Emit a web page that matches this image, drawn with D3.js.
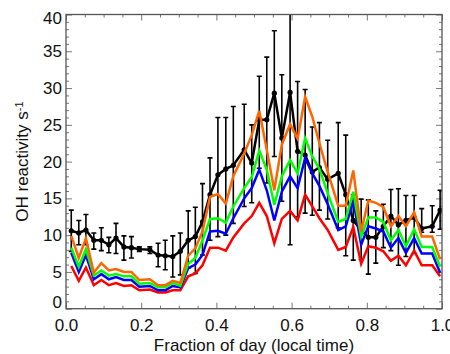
<!DOCTYPE html>
<html>
<head>
<meta charset="utf-8">
<script src="https://cdn.jsdelivr.net/npm/d3@7"></script>
<style>
  body { margin: 0; background: #fff; }
  svg { display: block; font-family: "Liberation Sans", Arial, sans-serif; }
</style>
</head>
<body>
<div id="chart"></div>
<script>
// fraction of day for each bin
const fracDay = [0.014, 0.034, 0.053, 0.074, 0.094, 0.114, 0.133, 0.154, 0.174, 0.195,
  0.223, 0.245, 0.264, 0.284, 0.304, 0.325, 0.344, 0.363, 0.383, 0.404,
  0.425, 0.445, 0.474, 0.494, 0.514, 0.534, 0.554, 0.574, 0.596, 0.616,
  0.636, 0.655, 0.674, 0.696, 0.724, 0.744, 0.764, 0.785, 0.804, 0.824,
  0.844, 0.864, 0.884, 0.904, 0.926, 0.946, 0.974, 0.995]

// measured OH reactivity (black) with error bar ends
const measured = [10.6, 10.3, 10.7, 9.3, 9.3, 8.7, 9.6, 8.4, 8.3, 8.1,
  8.0, 7.3, 7.2, 7.1, 7.8, 9.3, 9.8, 11.8, 15.5, 18.2,
  19.0, 19.5, 21.6, 19.8, 25.7, 25.7, 29.3, 23.2, 29.4, 21.4,
  20.9, 18.6, 19.2, 17.6, 18.4, 15.5, 12.0, 10.7, 9.7, 9.7,
  11.2, 12.6, 11.4, 12.0, 12.4, 10.9, 11.2, 13.4]
const measLow = [7.8, 8.7, 8.7, 8.1, 7.9, 7.6, 7.5, 6.6, 6.9, 7.8,
  7.5, 5.7, 5.3, 4.3, 4.6, 5.5, 4.8, 7.3, 9.3, 9.8,
  10.0, 11.6, 13.9, 14.4, 19.1, 17.1, 20.7, 14.6, 8.7, 12.5,
  13.0, 12.7, 13.4, 12.2, 11.0, 7.2, 6.6, 6.7, 4.7, 6.2,
  8.3, 7.9, 5.9, 7.1, 7.5, 10.4, 10.4, 10.8]
const measHigh = [13.4, 12.0, 12.8, 10.3, 11.0, 9.7, 11.6, 9.9, 9.8, 8.4,
  8.4, 8.9, 9.3, 9.9, 10.3, 13.3, 13.8, 17.0, 20.5, 26.0,
  26.0, 27.5, 27.8, 25.0, 31.6, 34.2, 37.8, 31.8, 41.0, 30.9,
  29.8, 24.7, 25.3, 22.9, 25.3, 23.6, 15.5, 14.9, 14.8, 13.3,
  14.2, 16.2, 16.3, 15.4, 15.4, 13.6, 14.0, 16.1]

// model runs
const runOrange = [9.9, 6.9, 9.6, 4.9, 6.2, 5.2, 5.4, 5.0, 5.0, 3.9,
  4.0, 3.2, 3.2, 3.8, 3.5, 7.2, 8.2, 10.5, 15.2, 15.6,
  14.3, 18.0, 21.1, 23.6, 26.9, 21.6, 16.1, 22.3, 25.1, 23.1,
  28.8, 26.1, 22.5, 18.6, 14.0, 14.0, 18.8, 10.5, 14.7, 14.4,
  13.8, 11.2, 12.6, 11.2, 13.1, 9.8, 9.8, 6.7]
const runGreen = [8.3, 5.7, 8.1, 4.5, 5.2, 4.5, 4.7, 4.4, 4.4, 3.4,
  3.5, 2.9, 2.9, 3.5, 3.1, 6.1, 6.9, 9.3, 12.2, 12.3,
  11.7, 13.9, 16.4, 17.9, 21.5, 18.9, 14.1, 18.0, 20.2, 18.4,
  23.2, 20.7, 19.0, 15.7, 11.8, 12.2, 15.9, 9.8, 12.4, 12.4,
  11.8, 9.3, 10.7, 8.5, 10.8, 8.4, 8.4, 5.7]
const runBlue = [7.6, 5.0, 7.3, 4.0, 4.7, 4.0, 4.3, 3.9, 3.9, 3.0,
  3.1, 2.5, 2.5, 3.1, 2.9, 5.5, 6.0, 7.3, 10.5, 10.6,
  10.2, 12.3, 15.0, 16.4, 18.9, 16.1, 12.0, 15.9, 18.0, 16.4,
  20.5, 18.4, 16.7, 14.2, 10.7, 11.2, 14.7, 8.7, 11.2, 10.9,
  10.5, 8.3, 9.6, 7.6, 9.6, 7.5, 7.5, 4.9]
const runRed = [5.8, 3.8, 5.6, 3.2, 3.9, 3.2, 3.5, 3.1, 3.2, 2.5,
  2.6, 2.2, 2.2, 2.5, 2.5, 4.4, 4.8, 5.9, 8.3, 8.3,
  7.9, 9.7, 11.6, 12.6, 14.4, 12.6, 8.9, 12.2, 13.3, 12.0,
  15.5, 13.9, 12.3, 10.7, 8.0, 8.4, 11.1, 6.1, 8.5, 8.3,
  7.8, 6.5, 7.2, 5.9, 7.9, 5.9, 5.9, 4.4]

const xMajor = [0, 0.2, 0.4, 0.6, 0.8, 1.0]
const yMajor = [0, 5, 10, 15, 20, 25, 30, 35, 40]

const W = 450
const H = 354
const plot = { left: 66, right: 442, top: 14.5, bottom: 308.7 }

const svg = d3.select('#chart').append('svg')
  .attr('width', W)
  .attr('height', H)

const x = d3.scaleLinear([0, 1], [plot.left, plot.right])
const y = d3.scaleLinear([0, 40], [plot.bottom, plot.top])

const xMinor = d3.range(0, 1.0001, 0.05).filter(v => !xMajor.some(m => Math.abs(m - v) < 1e-6))
const yMinor = d3.range(0, 40.5, 1).filter(v => v % 5 !== 0)

// ---- axes (ticks point inward, IDL style) ----
function styleAxis (g) {
  g.select('.domain').remove()
  g.selectAll('.tick line').attr('stroke', '#777').attr('stroke-width', 1)
  g.selectAll('text').attr('fill', '#111').style('font-size', '17px')
}

svg.append('g')
  .attr('transform', `translate(0,${plot.bottom})`)
  .call(d3.axisBottom(x).tickValues(xMajor).tickFormat(d3.format('.1f')).tickSizeInner(-6).tickPadding(10))
  .call(styleAxis)
svg.append('g')
  .attr('transform', `translate(0,${plot.bottom})`)
  .call(d3.axisBottom(x).tickValues(xMinor).tickFormat('').tickSizeInner(-3))
  .call(styleAxis)
svg.append('g')
  .attr('transform', `translate(0,${plot.top})`)
  .call(d3.axisTop(x).tickValues(xMajor).tickFormat('').tickSizeInner(-6))
  .call(styleAxis)
svg.append('g')
  .attr('transform', `translate(0,${plot.top})`)
  .call(d3.axisTop(x).tickValues(xMinor).tickFormat('').tickSizeInner(-3))
  .call(styleAxis)

const yAxisG = svg.append('g')
  .attr('transform', `translate(${plot.left},0)`)
  .call(d3.axisLeft(y).tickValues(yMajor).tickFormat(d3.format('d')).tickSizeInner(-6).tickPadding(4))
  .call(styleAxis)
// keep the end labels inside the frame like the original
yAxisG.selectAll('.tick text').attr('dy', d => d === 40 ? '0.52em' : d === 0 ? '-0.05em' : '0.32em')

svg.append('g')
  .attr('transform', `translate(${plot.left},0)`)
  .call(d3.axisLeft(y).tickValues(yMinor).tickFormat('').tickSizeInner(-3))
  .call(styleAxis)
svg.append('g')
  .attr('transform', `translate(${plot.right},0)`)
  .call(d3.axisRight(y).tickValues(yMajor).tickFormat('').tickSizeInner(-6))
  .call(styleAxis)
svg.append('g')
  .attr('transform', `translate(${plot.right},0)`)
  .call(d3.axisRight(y).tickValues(yMinor).tickFormat('').tickSizeInner(-3))
  .call(styleAxis)

// ---- data ----
svg.append('defs').append('clipPath')
  .attr('id', 'clip')
  .append('rect')
  .attr('x', plot.left)
  .attr('y', plot.top)
  .attr('width', plot.right - plot.left)
  .attr('height', plot.bottom - plot.top)

const dataG = svg.append('g').attr('clip-path', 'url(#clip)')

const pts = fracDay.map((f, i) => ({ f, v: measured[i], lo: measLow[i], hi: measHigh[i] }))
const capW = 2.5

const bars = dataG.append('g')
  .attr('stroke', '#000')
  .attr('stroke-width', 1.6)
  .attr('fill', 'none')
bars.selectAll('line.err')
  .data(pts)
  .enter()
  .append('line')
  .attr('x1', d => x(d.f))
  .attr('x2', d => x(d.f))
  .attr('y1', d => y(d.lo))
  .attr('y2', d => y(d.hi))
bars.selectAll('line.capLo')
  .data(pts)
  .enter()
  .append('line')
  .attr('x1', d => x(d.f) - capW)
  .attr('x2', d => x(d.f) + capW)
  .attr('y1', d => y(d.lo))
  .attr('y2', d => y(d.lo))
bars.selectAll('line.capHi')
  .data(pts)
  .enter()
  .append('line')
  .attr('x1', d => x(d.f) - capW)
  .attr('x2', d => x(d.f) + capW)
  .attr('y1', d => y(d.hi))
  .attr('y2', d => y(d.hi))

const line = d3.line()
  .x(d => x(d[0]))
  .y(d => y(d[1]))

dataG.append('path')
  .datum(fracDay.map((f, i) => [f, measured[i]]))
  .attr('fill', 'none')
  .attr('stroke', '#000')
  .attr('stroke-width', 2.5)
  .attr('stroke-linejoin', 'round')
  .attr('d', line)

dataG.selectAll('circle.pt')
  .data(pts)
  .enter()
  .append('circle')
  .attr('cx', d => x(d.f))
  .attr('cy', d => y(d.v))
  .attr('r', 2.6)
  .attr('fill', '#000')

const runs = [
  { values: runRed, color: '#ff0000' },
  { values: runBlue, color: '#0000ff' },
  { values: runGreen, color: '#00ff00' },
  { values: runOrange, color: '#ff6600' }
]
runs.forEach(r => {
  dataG.append('path')
    .datum(fracDay.map((f, i) => [f, r.values[i]]))
    .attr('fill', 'none')
    .attr('stroke', r.color)
    .attr('stroke-width', 2.5)
    .attr('stroke-linejoin', 'miter')
    .attr('d', line)
})

// frame
svg.append('rect')
  .attr('x', plot.left)
  .attr('y', plot.top)
  .attr('width', plot.right - plot.left)
  .attr('height', plot.bottom - plot.top)
  .attr('fill', 'none')
  .attr('stroke', '#555')
  .attr('stroke-width', 1.3)

// ---- titles ----
svg.append('text')
  .attr('x', (plot.left + plot.right) / 2)
  .attr('y', 351)
  .attr('text-anchor', 'middle')
  .attr('fill', '#111')
  .style('font-size', '17px')
  .text('Fraction of day (local time)')

const yTitle = svg.append('text')
  .attr('transform', `translate(28,${(plot.top + plot.bottom) / 2}) rotate(-90)`)
  .attr('text-anchor', 'middle')
  .attr('fill', '#111')
  .style('font-size', '17px')
yTitle.append('tspan').text('OH reactivity s')
yTitle.append('tspan')
  .attr('dy', '-0.5em')
  .style('font-size', '11px')
  .text('-1')
</script>
</body>
</html>
